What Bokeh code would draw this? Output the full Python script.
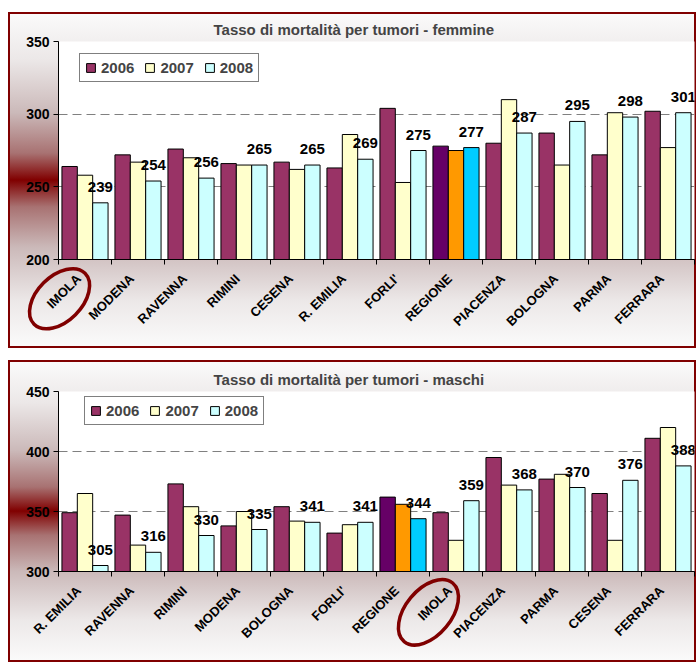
import math
from bokeh.plotting import figure
from bokeh.models import (Range1d, FixedTicker, Legend, LegendItem, ColumnDataSource)
from bokeh.layouts import column
from bokeh.core.properties import value
from bokeh.embed import file_html
from bokeh.resources import INLINE

# ---------------- data ----------------
years = ["2006", "2007", "2008"]

cats_f = ["IMOLA", "MODENA", "RAVENNA", "RIMINI", "CESENA", "R. EMILIA",
          "FORLI'", "REGIONE", "PIACENZA", "BOLOGNA", "PARMA", "FERRARA"]
f2006 = [264, 272, 276, 266, 267, 263, 304, 278, 280, 287, 272, 302]
f2007 = [258, 267, 270, 265, 262, 286, 253, 275, 310, 265, 301, 277]
f2008 = [239, 254, 256, 265, 265, 269, 275, 277, 287, 295, 298, 301]

cats_m = ["R. EMILIA", "RAVENNA", "RIMINI", "MODENA", "BOLOGNA", "FORLI'",
          "REGIONE", "IMOLA", "PIACENZA", "PARMA", "CESENA", "FERRARA"]
m2006 = [349, 347, 373, 338, 354, 332, 362, 349, 395, 377, 365, 411]
m2007 = [365, 322, 354, 350, 342, 339, 356, 326, 372, 381, 326, 420]
m2008 = [305, 316, 330, 335, 341, 341, 344, 359, 368, 370, 376, 388]

HIGHLIGHT = "IMOLA"
REGION = "REGIONE"

# ---------------- style ----------------
FONT = "Liberation Sans"
BASE_COLORS = ["#993366", "#FFFFCC", "#CCFFFF"]
REG_COLORS = ["#660066", "#FF9900", "#00CCFF"]
DARK_RED = "#800000"
GRADIENT = ("linear-gradient(to bottom, #fbfbfb 0%, #ece8e8 14%, #cbb9b9 30%, "
            "#a87272 42%, #800000 50%, #a87272 58%, #cbb9b9 70%, #ece8e8 86%, #fbfbfb 100%)")
BAR_W = 0.29
LABEL_SHIFT = 0.12   # category labels sit slightly left of the group centre


def make_panel(title, cats, series, y0, y1, ystep, height, top_border, bottom_border,
               legend_loc, ell_dx, ell_y, ell_w, ell_h, ell_angle):
    n = len(cats)
    p = figure(width=688, height=height, output_backend="svg", toolbar_location=None,
               x_range=Range1d(0, n), y_range=Range1d(y0, y1),
               min_border_left=50, min_border_right=2,
               min_border_top=top_border, min_border_bottom=bottom_border)
    p.border_fill_alpha = 0
    p.background_fill_color = "white"
    p.outline_line_color = None
    p.styles = {"background": GRADIENT,
                "outline": "2px solid " + DARK_RED,
                "outline-offset": "-2px"}

    p.title.text = title
    p.title.align = "left"
    p.title.offset = 155
    p.title.text_font = FONT
    p.title.text_font_size = "15px"
    p.title.text_font_style = "bold"
    p.title.standoff = 8

    # y axis
    p.yaxis.ticker = FixedTicker(ticks=list(range(y0, y1 + 1, ystep)))
    p.yaxis.major_label_text_font = FONT
    p.yaxis.major_label_text_font_size = "14px"
    p.yaxis.major_label_text_font_style = "bold"
    p.yaxis.major_label_text_color = "black"
    p.yaxis.major_tick_in = 0
    p.yaxis.major_tick_out = 5
    p.yaxis.minor_tick_line_color = None
    p.yaxis.axis_line_color = "black"
    p.yaxis.major_label_standoff = 4

    # x axis: labels near centers, tick marks at group boundaries
    label_pos = [i + 0.5 - LABEL_SHIFT for i in range(n)]
    p.xaxis.ticker = FixedTicker(ticks=label_pos, minor_ticks=list(range(n + 1)))
    p.xaxis.major_label_overrides = {c: name for c, name in zip(label_pos, cats)}
    p.xaxis.major_label_orientation = math.pi / 4
    p.xaxis.major_label_text_font = FONT
    p.xaxis.major_label_text_font_size = "13px"
    p.xaxis.major_label_text_font_style = "bold"
    p.xaxis.major_label_text_color = "black"
    p.xaxis.major_tick_line_color = None
    p.xaxis.minor_tick_in = 0
    p.xaxis.minor_tick_out = 5
    p.xaxis.minor_tick_line_color = "black"
    p.xaxis.axis_line_color = "black"
    p.xaxis.major_label_standoff = 11

    p.xgrid.visible = False
    p.ygrid.grid_line_color = "#808080"
    p.ygrid.grid_line_dash = "9 5"

    renderers = []
    for j, vals in enumerate(series):
        xs = [i + 0.5 + (j - 1) * BAR_W for i in range(n)]
        colors = [REG_COLORS[j] if c == REGION else BASE_COLORS[j] for c in cats]
        src = ColumnDataSource(dict(x=xs, top=vals, color=colors))
        r = p.vbar(x="x", top="top", bottom=y0, width=BAR_W, fill_color="color",
                   line_color="black", line_width=1, source=src)
        renderers.append(r)

    # data labels on the 2008 series
    last = series[-1]
    lsrc = ColumnDataSource(dict(x=[i + 0.5 + BAR_W for i in range(n)], y=last,
                                 t=[str(v) for v in last]))
    p.text(x="x", y="y", text="t", source=lsrc, text_align="center",
           text_baseline="middle", y_offset=-16, text_font=value(FONT),
           text_font_size="15px", text_font_style="bold", text_color="black")

    legend = Legend(items=[LegendItem(label=years[j], renderers=[renderers[j]], index=0)
                           for j in range(3)],
                    location=legend_loc, orientation="horizontal")
    legend.label_text_font = FONT
    legend.label_text_font_size = "15px"
    legend.label_text_font_style = "bold"
    legend.glyph_width = 11
    legend.glyph_height = 11
    legend.label_standoff = 5
    legend.spacing = 10
    legend.padding = 5
    legend.margin = 0
    legend.border_line_color = "black"
    legend.border_line_width = 1
    legend.background_fill_color = "white"
    legend.background_fill_alpha = 1
    p.add_layout(legend, "center")

    # highlight ellipse around the highlighted category label
    hx = cats.index(HIGHLIGHT) + 0.5 - ell_dx
    p.ellipse(x=[hx], y=[ell_y], width=ell_w, height=ell_h, width_units="screen",
              height_units="screen", angle=ell_angle, fill_color=None,
              line_color=DARK_RED, line_width=3.5, level="annotation")
    return p


p1 = make_panel("Tasso di mortalità per tumori - femmine", cats_f, [f2006, f2007, f2008],
                200, 350, 50, 336, 29, 89, (21, 177), 0.48, 173, 72, 45, math.pi / 4)
p2 = make_panel("Tasso di mortalità per tumori - maschi", cats_m, [m2006, m2007, m2008],
                300, 450, 50, 302, 31, 91, (26, 146), 0.52, 266, 76, 46, math.pi * 0.28)
p1.margin = (12, 0, 0, 8)
p2.margin = (0, 0, 0, 8)

layout = column(p1, p2, spacing=12)

open("out.html", "w").write(file_html(layout, INLINE))
